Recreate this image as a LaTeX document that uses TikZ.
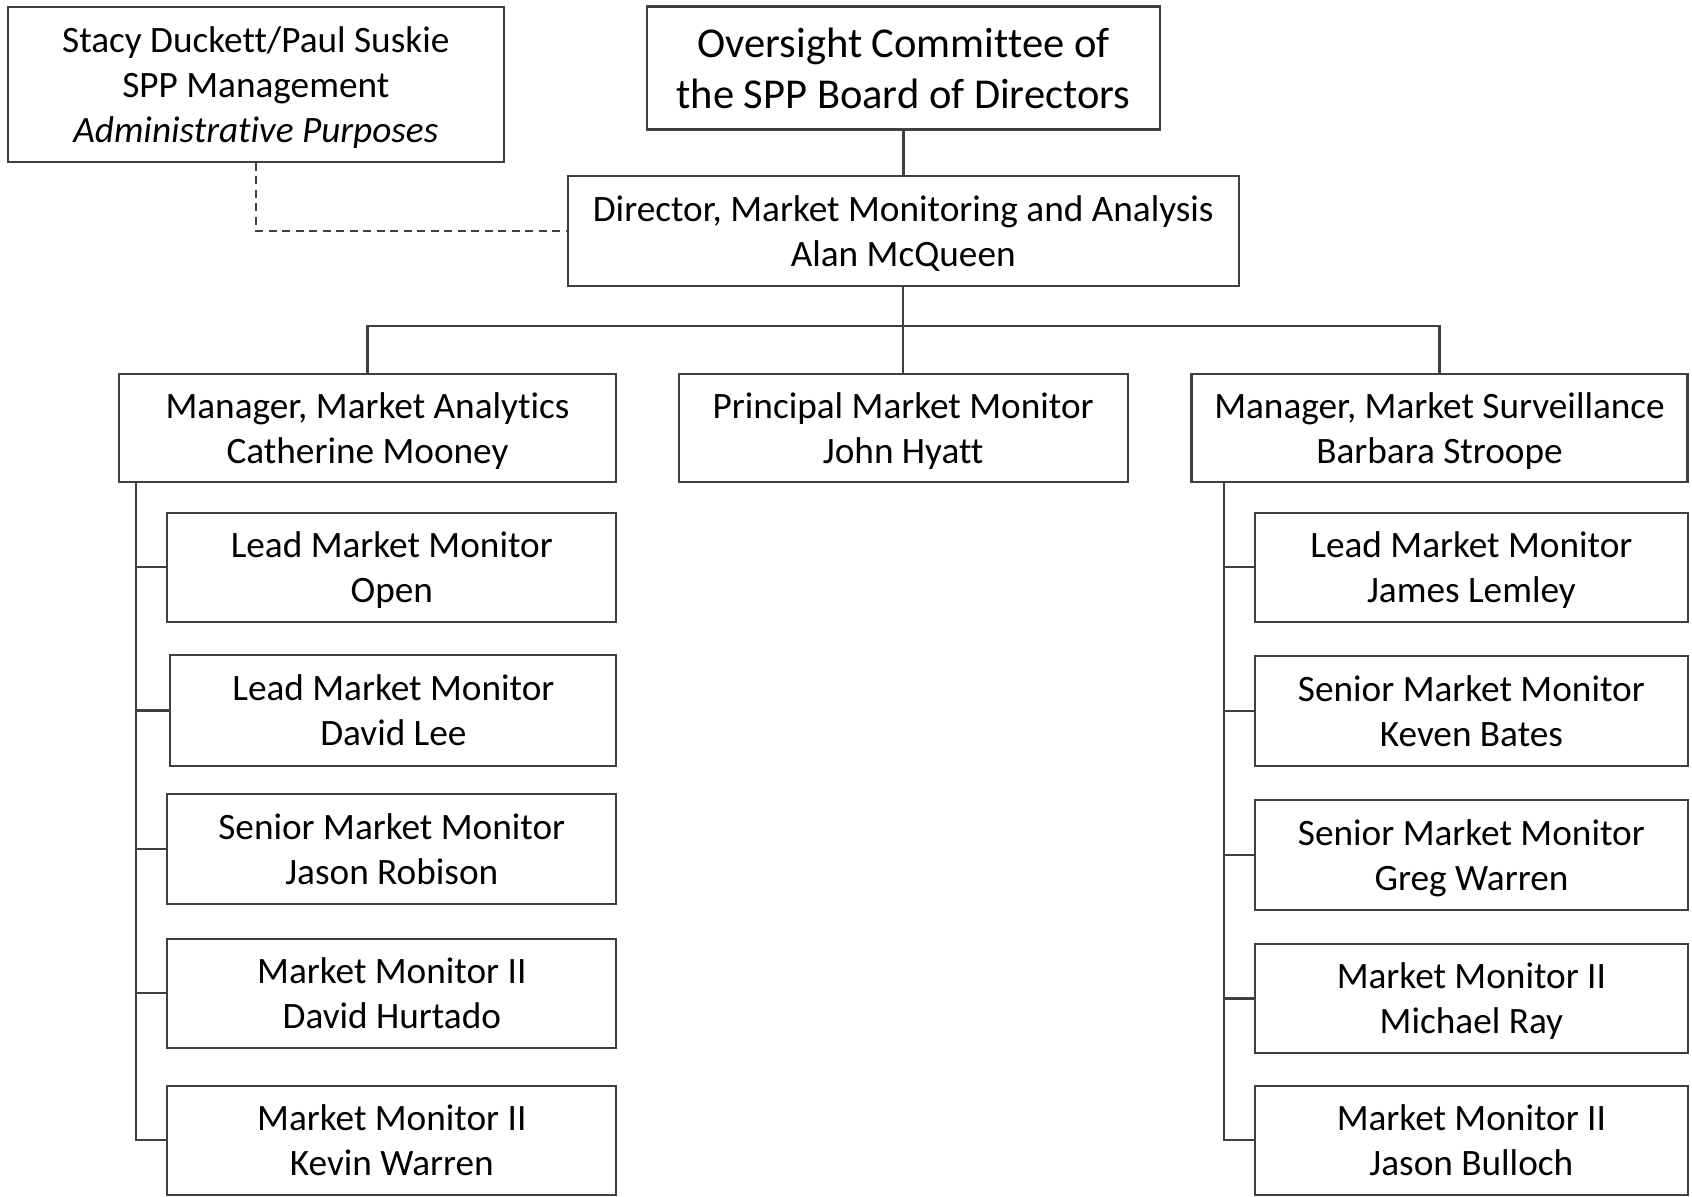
\documentclass[tikz,border=0pt]{standalone}
\usepackage{fontspec}
\setmainfont[Ligatures={NoCommon,NoRequired,NoContextual}]{Carlito}
\usetikzlibrary{positioning,calc}
\definecolor{linegray}{HTML}{404040}

\begin{document}
\begin{tikzpicture}[x=0.1mm,y=-0.1mm,
  every node/.style={font=\fontsize{10.6}{12.8}\selectfont},
  unit/.style={draw=linegray,line width=0.6pt,align=center,inner sep=0pt,text depth=0pt,minimum height=10.9mm},
  link/.style={draw=linegray,line width=0.6pt}]
\useasboundingbox (0,0) rectangle (1692,1196);
% top level
\node[unit,minimum width=49.6mm,minimum height=15.5mm] (adm) at (255.8,84.3) {Stacy Duckett/Paul Suskie\\SPP Management\\\textit{Administrative Purposes}};
\node[unit,minimum width=51.3mm,minimum height=12.3mm,font=\fontsize{12.1}{14.6}\selectfont] (ovs) at (903.5,68) {Oversight Committee of\\the SPP Board of Directors};
\node[unit,minimum width=67.1mm,minimum height=11mm] (dir) at (903.2,231) {Director, Market Monitoring and Analysis\\Alan McQueen};
% second level
\node[unit,minimum width=49.75mm,minimum height=10.8mm] (mgrA) at (367.5,428.4) {Manager, Market Analytics\\Catherine Mooney};
\node[unit,minimum width=44.9mm,minimum height=10.8mm] (pmm) at (903.2,428.4) {Principal Market Monitor\\John Hyatt};
\node[unit,minimum width=49.6mm,minimum height=10.8mm] (mgrS) at (1439.5,428.4) {Manager, Market Surveillance\\Barbara Stroope};
% analytics staff
\node[unit,minimum width=44.9mm] (la1) at (391.8,567.1) {Lead Market Monitor\\Open};
\node[unit,minimum width=44.6mm,minimum height=11.1mm] (la2) at (393.4,710.5) {Lead Market Monitor\\David Lee};
\node[unit,minimum width=44.9mm,minimum height=11mm] (la3) at (391.8,849) {Senior Market Monitor\\Jason Robison};
\node[unit,minimum width=44.9mm] (la4) at (391.8,993.3) {Market Monitor II\\David Hurtado};
\node[unit,minimum width=44.9mm] (la5) at (391.8,1140.1) {Market Monitor II\\Kevin Warren};
% surveillance staff
\node[unit,minimum width=43.3mm] (rs1) at (1471.4,567.1) {Lead Market Monitor\\James Lemley};
\node[unit,minimum width=43.3mm,minimum height=11mm] (rs2) at (1471.4,711) {Senior Market Monitor\\Keven Bates};
\node[unit,minimum width=43.3mm,minimum height=11mm] (rs3) at (1471.4,854.7) {Senior Market Monitor\\Greg Warren};
\node[unit,minimum width=43.3mm] (rs4) at (1471.4,998.5) {Market Monitor II\\Michael Ray};
\node[unit,minimum width=43.3mm] (rs5) at (1471.4,1140.1) {Market Monitor II\\Jason Bulloch};
% connectors
\draw[link,dash pattern=on 0.8mm off 0.55mm] (adm.south) |- (dir.west);
\draw[link] (ovs.south) -- (ovs.south |- dir.north);
\coordinate (bus) at (903.2,326);
\draw[link] (dir.south) -- (bus) -- (bus |- pmm.north);
\draw[link] (mgrA.north) |- (bus) -| (mgrS.north);
\coordinate (lspine) at (136,482.4);
\coordinate (rspine) at (1223.7,482.4);
\draw[link] (lspine) |- (la5.west);
\draw[link] (rspine) |- (rs5.west);
\foreach \n in {la1,la2,la3,la4} \draw[link] (lspine |- \n.west) -- (\n.west);
\foreach \n in {rs1,rs2,rs3,rs4} \draw[link] (rspine |- \n.west) -- (\n.west);
\end{tikzpicture}
\end{document}
